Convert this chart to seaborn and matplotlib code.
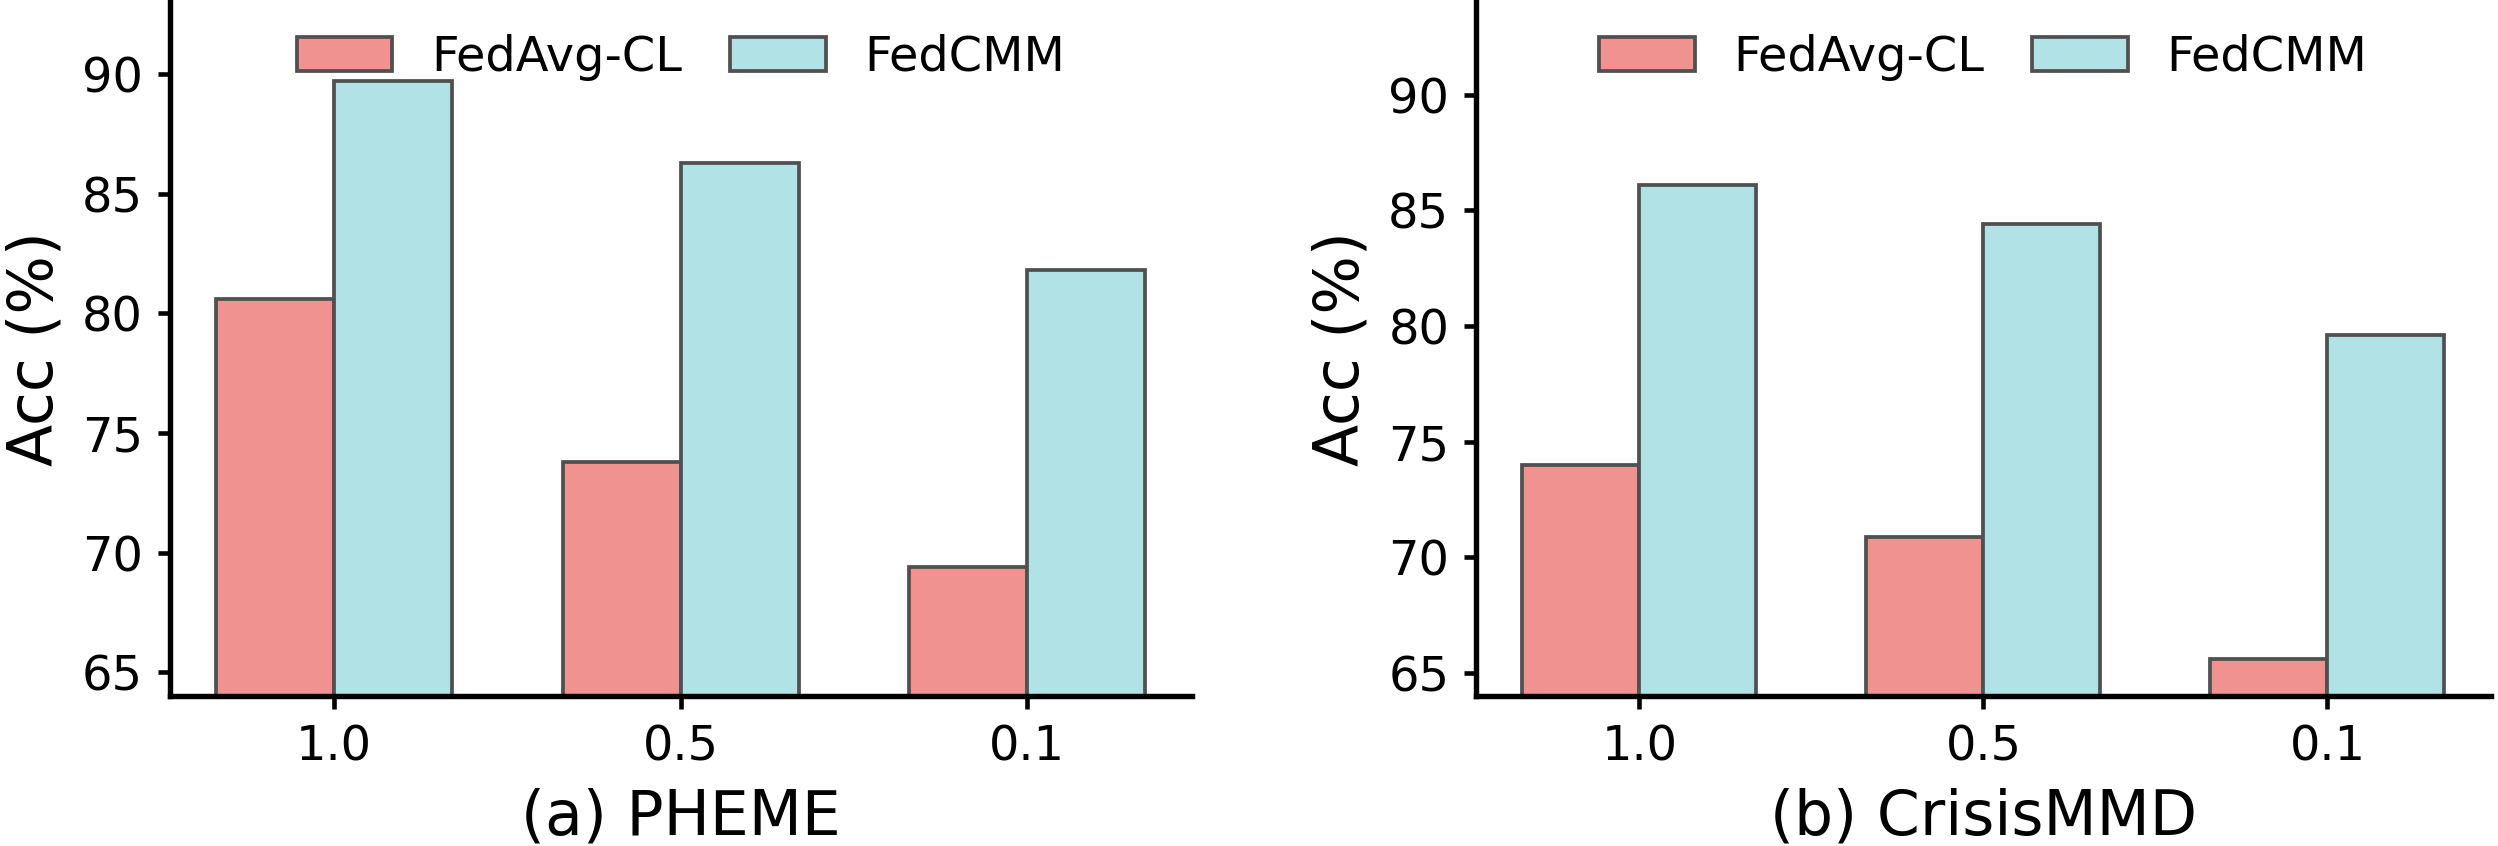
import matplotlib
matplotlib.use("Agg")
import matplotlib.pyplot as plt
import seaborn as sns
import pandas as pd

# data
ratios = ["1.0", "0.5", "0.1"]
methods = ["FedAvg-CL", "FedCMM"]
pheme_fedavg = [80.6, 73.8, 69.4]
pheme_fedcmm = [89.7, 86.3, 81.8]
crisis_fedavg = [74.0, 70.9, 65.6]
crisis_fedcmm = [86.1, 84.4, 79.6]
yticks = [65, 70, 75, 80, 85, 90]

sns.set_theme(style="ticks")
plt.rcParams['font.family'] = ['DejaVu Sans']
plt.rcParams['axes.linewidth'] = 1.3
plt.rcParams['axes.edgecolor'] = 'black'
plt.rcParams['axes.labelcolor'] = 'black'
plt.rcParams['text.color'] = 'black'
plt.rcParams['xtick.major.width'] = 1.1
plt.rcParams['ytick.major.width'] = 1.1
plt.rcParams['xtick.major.size'] = 3.0
plt.rcParams['ytick.major.size'] = 3.0

colors = {"FedAvg-CL": "#F09290", "FedCMM": "#B0E2E6"}


def make_df(a, b):
    rows = []
    for r, v in zip(ratios, a):
        rows.append({"ratio": r, "method": methods[0], "acc": v})
    for r, v in zip(ratios, b):
        rows.append({"ratio": r, "method": methods[1], "acc": v})
    return pd.DataFrame(rows)


fig = plt.figure(figsize=(2498 / 300, 846 / 300), dpi=300)
ax1 = fig.add_axes([0.068, 0.177, 0.409, 0.823])
ax2 = fig.add_axes([0.591, 0.177, 0.406, 0.823])

panels = [
    (ax1, make_df(pheme_fedavg, pheme_fedcmm), "(a) PHEME", (64.0, 93.1)),
    (ax2, make_df(crisis_fedavg, crisis_fedcmm), "(b) CrisisMMD", (64.0, 94.1)),
]

for ax, df, title, ylim in panels:
    sns.barplot(data=df, x="ratio", y="acc", hue="method", order=ratios,
                hue_order=methods, palette=colors, width=0.68, saturation=1,
                edgecolor="#505050", linewidth=0.9, ax=ax, errorbar=None)
    ax.set_xlim(-0.474, 2.474)
    ax.set_ylim(*ylim)
    ax.set_yticks(yticks)
    ax.set_xlabel(title, fontsize=14.8, labelpad=4)
    ax.set_ylabel("Acc (%)", fontsize=14.8, labelpad=4)
    ax.tick_params(axis='both', labelsize=11.5, colors='black')
    ax.legend(loc='upper center', ncol=2, frameon=False, fontsize=11.5,
              columnspacing=1.0, borderaxespad=0.3)
    sns.despine(ax=ax)

fig.savefig("out.png", dpi=300)
